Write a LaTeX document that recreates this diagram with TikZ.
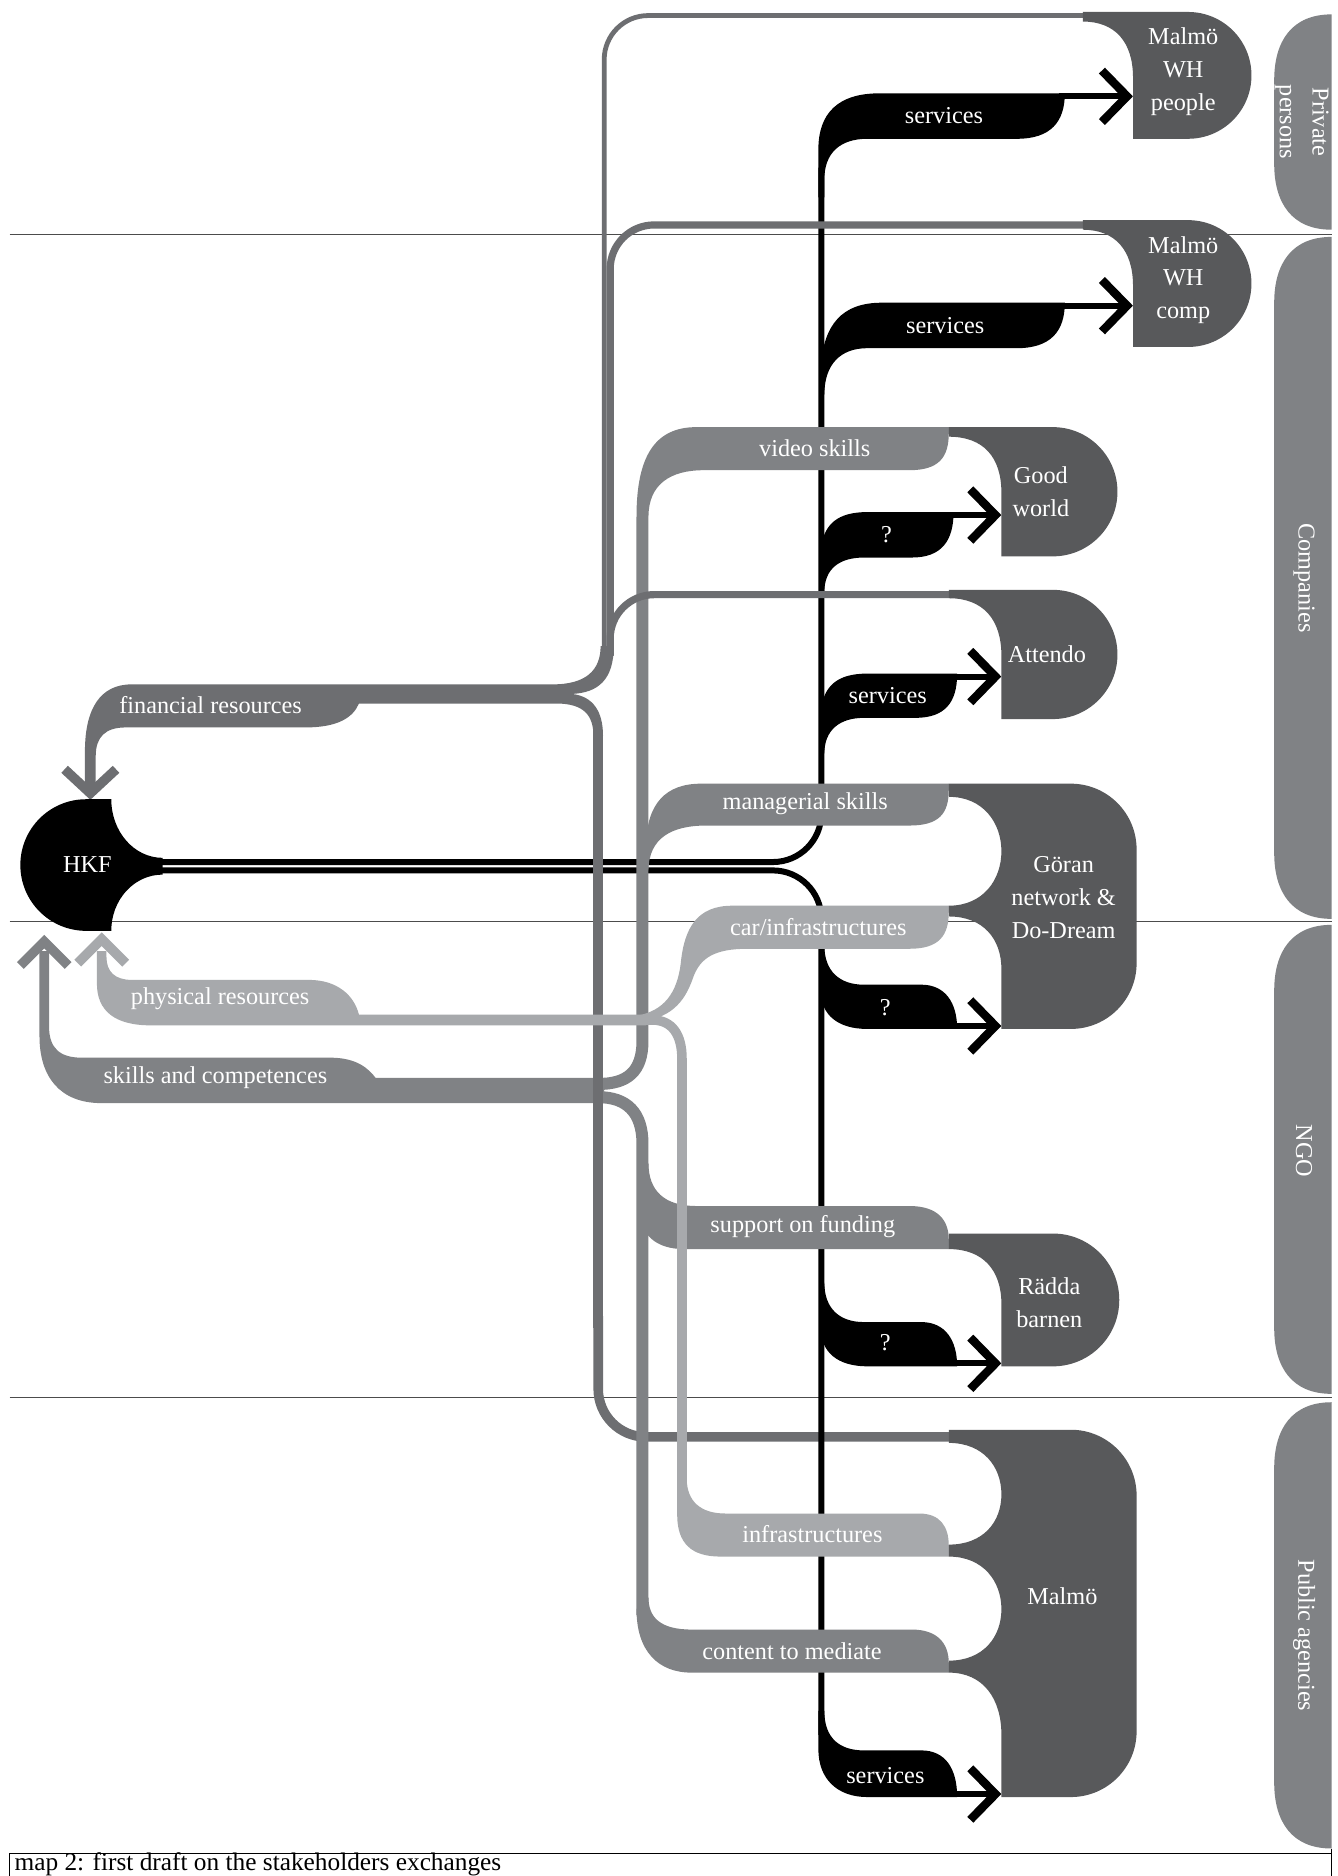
\documentclass[tikz,border=0pt]{standalone}
\usepackage{fontspec}
\setmainfont{Liberation Serif}
\definecolor{nodec}{HTML}{58595B}
\definecolor{tabc}{HTML}{808285}
\definecolor{darkg}{HTML}{6D6E71}
\definecolor{medg}{HTML}{808285}
\definecolor{lightg}{HTML}{A7A9AC}
\newcommand{\lblf}{\fontsize{18.2pt}{24.6pt}\selectfont}
\newcommand{\capf}{\fontsize{19pt}{22pt}\selectfont}
\tikzset{
  lbl/.style={text=white,font=\lblf,inner sep=0pt},
  ntxt/.style={text=white,font=\lblf,align=center,inner sep=0pt},
  tabtxt/.style={text=white,font=\lblf,align=center,inner sep=0pt,rotate=-90},
  sepline/.style={draw=black!70,line width=0.9pt},
  blkline/.style={draw=black,line width=4.5pt},
  chev/.style={line width=6.3pt,line join=miter,miter limit=10,line cap=butt},
  finline/.style={draw=darkg,line cap=butt},
  medline/.style={draw=medg,line width=9pt,line cap=butt},
  lightline/.style={draw=lightg,line width=7.2pt,line cap=butt}
}
\begin{document}
\begin{tikzpicture}[x=0.8976pt,y=-0.8976pt]
\useasboundingbox (0,0) rectangle (1118,1568);
\fill[white] (0,0) rectangle (1118,1568);

% ---- separators and caption frame
\draw[sepline] (8,196) -- (1113,196);
\draw[sepline] (8,770) -- (1113,770);
\draw[sepline] (8,1168) -- (1113,1168);
\draw[line width=0.9pt] (8,1568) -- (8,1549) -- (1113,1549) -- (1113,1568);
\draw[line width=0.9pt] (1113,1545) -- (1113,1549);

% ---- Malmo financial line, horizontal part (bottom layer)
\draw[finline,line width=7.2pt,rounded corners=36pt] (500,1100) -- (500,1201) -- (800,1201);

% ---- black trunk and HKF lines
\draw[blkline] (135,720.5) -- (646,720.5) .. controls (668.4,720.5) and (686.5,702.4) .. (686.5,680) -- (686.5,140);
\draw[blkline] (135,727.5) -- (646,727.5) .. controls (668.4,727.5) and (686.5,745.6) .. (686.5,768) -- (686.5,1450);

% black branches
\fill[black] (684,165) -- (684,125) .. controls (684,95) and (700,78) .. (735,78) -- (890,78) .. controls (890,102) and (878,116) .. (850,116) -- (725,116) .. controls (702,116) and (689,128) .. (689,150) -- (689,165) -- cycle;
\fill[black] (686,305) .. controls (689,272) and (703,253) .. (737,253) -- (890,253) .. controls (890,277) and (878,291) .. (850,291) -- (725,291) .. controls (702,291) and (689,305) .. (689,330) -- cycle;
\fill[black] (686,458) .. controls (689,438) and (700,428) .. (725,428) -- (797,428) .. controls (797,452) and (787,466) .. (762,466) -- (722,466) .. controls (702,466) and (689,475) .. (689,495) -- cycle;
\fill[black] (686,593) .. controls (689,573) and (700,563) .. (725,563) -- (800,563) .. controls (800,587) and (790,600) .. (765,600) -- (722,600) .. controls (702,600) and (689,610) .. (689,630) -- cycle;
\fill[black] (689,790) .. controls (689,812) and (702,823) .. (722,823) -- (770,823) .. controls (790,823) and (800,838) .. (800,860) -- (725,860) .. controls (700,860) and (686,848) .. (686,828) -- cycle;
\fill[black] (689,1072) .. controls (689,1094) and (702,1105) .. (722,1105) -- (770,1105) .. controls (790,1105) and (800,1120) .. (800,1142) -- (725,1142) .. controls (700,1142) and (686,1130) .. (686,1110) -- cycle;
\fill[black] (689,1430) .. controls (689,1453) and (702,1463) .. (722,1463) -- (770,1463) .. controls (790,1463) and (800,1478) .. (800,1502) -- (725,1502) .. controls (700,1502) and (684,1487) .. (684,1462) -- (684,1430) -- cycle;

% black arrows
\draw[blkline] (885,80.5) -- (942,80.5);
\draw[chev,black] (921,59) -- (942,80.5) -- (921,102);
\draw[blkline] (885,255.5) -- (942,255.5);
\draw[chev,black] (921,234) -- (942,255.5) -- (921,277);
\draw[blkline] (790,430.5) -- (832,430.5);
\draw[chev,black] (811,409) -- (832,430.5) -- (811,452);
\draw[blkline] (790,565.5) -- (832,565.5);
\draw[chev,black] (811,544) -- (832,565.5) -- (811,587);
\draw[blkline] (790,857.5) -- (832,857.5);
\draw[chev,black] (811,836) -- (832,857.5) -- (811,879);
\draw[blkline] (790,1139.5) -- (832,1139.5);
\draw[chev,black] (811,1118) -- (832,1139.5) -- (811,1161);
\draw[blkline] (790,1499.5) -- (832,1499.5);
\draw[chev,black] (811,1478) -- (832,1499.5) -- (811,1521);

% ---- medium grey: skills
\draw[medline] (537,432) -- (537,870) .. controls (537,896) and (524,906) .. (500,906);
\draw[medline] (500,917) .. controls (524,917) and (537,930) .. (537,956) -- (537,1350);
\fill[medg] (33,795) -- (33,866) .. controls (33,900) and (50,922) .. (85,922) -- (505,922) -- (505,901) -- (314,901) .. controls (308,893) and (298,884) .. (276,884) -- (68,884) .. controls (50,884) and (41,876) .. (41,858) -- (41,795) -- cycle;
\draw[chev,medg,line width=7.2pt] (17,807) -- (37,787) -- (57,807);
% video skills
\fill[medg] (532,432) .. controls (532,382) and (547,357) .. (582,357) -- (793,357) -- (793,362) .. controls (793,382) and (785,393) .. (760,393) -- (588,393) .. controls (560,393) and (542,405) .. (542,432) -- cycle;
% managerial skills
\fill[medg] (540,705) .. controls (541,672) and (556,655) .. (586,655) -- (793,655) -- (793,660) .. controls (793,680) and (785,690) .. (760,690) -- (590,690) .. controls (562,690) and (542,700) .. (542,728) -- cycle;
% support on funding
\fill[medg] (542,972) .. controls (542,995) and (555,1008) .. (582,1008) -- (760,1008) .. controls (784,1008) and (793,1020) .. (793,1036) -- (793,1044) -- (572,1044) .. controls (548,1044) and (534,1032) .. (534,1008) -- cycle;
% content to mediate
\fill[medg] (542,1335) .. controls (542,1352) and (552,1362) .. (578,1362) -- (762,1362) .. controls (784,1362) and (793,1374) .. (793,1390) -- (793,1398) -- (578,1398) .. controls (550,1398) and (532,1380) .. (532,1345) -- cycle;

% ---- dark grey: financial resources
\draw[finline,line width=3.6pt,rounded corners=33pt] (907,13) -- (505,13) -- (505,548);
\draw[finline,line width=5.4pt,rounded corners=33pt] (907,188) -- (510,188) -- (510,548);
\draw[finline,line width=5.4pt,rounded corners=33pt] (795,497) -- (510,497) -- (510,548);
\fill[darkg] (71,660) -- (71,628) .. controls (71,592) and (84,572) .. (110,572) -- (462,572) .. controls (490,572) and (502,560) .. (502,540) -- (513,540) .. controls (513,568) and (500,579) .. (478,580) .. controls (496,582) and (504,595) .. (504,615) -- (496,615) .. controls (496,598) and (488,588) .. (465,588) -- (300,588) .. controls (295,600) and (282,608) .. (255,608) -- (105,608) .. controls (88,608) and (80,616) .. (80,632) -- (80,660) -- cycle;
\draw[finline,line width=7.2pt] (500,610) -- (500,1110);
\draw[chev,darkg,line width=7.2pt] (54,643) -- (75.5,663) -- (97,643);

% ---- light grey: physical resources
\fill[lightg] (81,795) -- (81,822) .. controls (81,845) and (96,857) .. (126,857) -- (540,857) -- (540,848) -- (300,848) .. controls (296,832) and (282,819) .. (258,819) -- (110,819) .. controls (96,819) and (89,812) .. (89,800) -- (89,795) -- cycle;
\draw[chev,lightg,line width=7.2pt] (65,805) -- (85,785) -- (105,805);
% car/infrastructures
\fill[lightg] (532,849) .. controls (555,845) and (566,830) .. (569,805) .. controls (572,775) and (583,757) .. (612,757) -- (793,757) -- (793,762) .. controls (793,782) and (785,793) .. (760,793) -- (625,793) .. controls (598,793) and (585,800) .. (579,818) .. controls (572,838) and (560,852) .. (532,854) -- cycle;
% infrastructures
\draw[lightline] (535,852.5) -- (545,852.5) .. controls (562,852.5) and (570,865) .. (570,885) -- (570,1240);
\fill[lightg] (566,1230) -- (566,1266) .. controls (566,1290) and (578,1301) .. (602,1301) -- (793,1301) -- (793,1292) .. controls (793,1276) and (786,1265) .. (768,1265) -- (606,1265) .. controls (586,1265) and (574,1255) .. (574,1236) -- (574,1230) -- cycle;

% ---- HKF
\fill[black] (93,668) -- (72,668) .. controls (41.6,668) and (17,692.6) .. (17,723) .. controls (17,753.4) and (41.6,778) .. (72,778) -- (93,778) .. controls (93,752) and (112,731) .. (136,731) -- (136,717) .. controls (112,717) and (93,695) .. (93,668) -- cycle;

% ---- stakeholder nodes
\fill[nodec] (905,10) -- (993,10) .. controls (1022.3,10) and (1046,33.7) .. (1046,63) .. controls (1046,92.3) and (1022.3,116) .. (993,116) -- (947,116) -- (947,65) .. controls (947,35) and (932,18) .. (905,18) -- cycle;
\fill[nodec] (905,184) -- (993,184) .. controls (1022.3,184) and (1046,207.7) .. (1046,237) .. controls (1046,266.3) and (1022.3,290) .. (993,290) -- (947,290) -- (947,239) .. controls (947,209) and (932,192) .. (905,192) -- cycle;
\fill[nodec] (793,357) -- (880,357) .. controls (909.8,357) and (934,381.2) .. (934,411) .. controls (934,440.8) and (909.8,465) .. (880,465) -- (837,465) -- (837,412) .. controls (837,382) and (822,365) .. (793,365) -- cycle;
\fill[nodec] (793,493) -- (880,493) .. controls (909.8,493) and (934,517.2) .. (934,547) .. controls (934,576.8) and (909.8,601) .. (880,601) -- (837,601) -- (837,548) .. controls (837,518) and (822,500) .. (793,500) -- cycle;
\fill[nodec] (793,655) -- (895,655) .. controls (925.4,655) and (950,679.6) .. (950,710) -- (950,805) .. controls (950,835.4) and (925.4,860) .. (895,860) -- (837,860) -- (837,810) .. controls (837,785) and (822,766) .. (793,766) -- (793,757) .. controls (822,757) and (837,735) .. (837,711.5) .. controls (837,688) and (822,666) .. (793,666) -- cycle;
\fill[nodec] (793,1031) -- (880,1031) .. controls (910.7,1031) and (935.5,1055.8) .. (935.5,1086.5) .. controls (935.5,1117.2) and (910.7,1142) .. (880,1142) -- (837,1142) -- (837,1090) .. controls (837,1062) and (822,1044) .. (793,1044) -- cycle;
\fill[nodec] (793,1195) -- (895,1195) .. controls (925.4,1195) and (950,1219.6) .. (950,1250) -- (950,1447) .. controls (950,1477.4) and (925.4,1502) .. (895,1502) -- (837,1502) -- (837,1450) .. controls (837,1420) and (822,1398) .. (793,1398) -- (793,1388) .. controls (822,1388) and (837,1368) .. (837,1345) .. controls (837,1322) and (822,1301) .. (793,1301) -- (793,1291) .. controls (822,1291) and (837,1272) .. (837,1249) .. controls (837,1226) and (822,1206) .. (793,1206) -- cycle;

% ---- category tabs
\foreach \ya/\yb in {12/192,198/768,773/1165,1172/1545}{
  \fill[tabc] (1113,\ya) .. controls (1080,\ya) and (1065,\ya+22) .. (1065,\ya+55) -- (1065,\yb-55) .. controls (1065,\yb-22) and (1080,\yb) .. (1113,\yb) -- cycle;
}

% ---- texts
\node[ntxt] (hkf) at (73,723) {HKF};
\node[ntxt] (whp) at (989,60) {Malmö\\WH\\people};
\node[ntxt] (whc) at (989,234) {Malmö\\WH\\comp};
\node[ntxt] (gw) at (870,411) {Good\\world};
\node[ntxt] (att) at (875,547) {Attendo};
\node[ntxt] (gor) at (889,750) {Göran\\network \&\\Do-Dream};
\node[ntxt] (rad) at (877,1089) {Rädda\\barnen};
\node[ntxt] (mal) at (888,1334) {Malmö};

\node[tabtxt] (tpriv) at (1088,102) {Private\\persons};
\node[tabtxt] (tcomp) at (1090,483) {Companies};
\node[tabtxt] (tngo) at (1090,962) {NGO};
\node[tabtxt] (tpub) at (1090,1367) {Public agencies};

\node[lbl] (lfin) at (176,589) {financial resources};
\node[lbl] (lphy) at (184,835) {physical resources};
\node[lbl] (lski) at (180,901) {skills and competences};
\node[lbl] (lvid) at (681,375) {video skills};
\node[lbl] (lman) at (673,672) {managerial skills};
\node[lbl] (lcar) at (684,775) {car/infrastructures};
\node[lbl] (lsup) at (671,1025) {support on funding};
\node[lbl] (linf) at (679,1282) {infrastructures};
\node[lbl] (lcon) at (662,1380) {content to mediate};
\node[lbl] (s1) at (789,97) {services};
\node[lbl] (s2) at (790,272) {services};
\node[lbl] (q1) at (741,447) {?};
\node[lbl] (s3) at (742,581) {services};
\node[lbl] (q2) at (740,842) {?};
\node[lbl] (q3) at (740,1122) {?};
\node[lbl] (s4) at (740,1484) {services};

\node[anchor=base west,font=\capf,inner sep=0pt] (cap) at (12,1563) {map 2: first draft on the stakeholders exchanges};
\end{tikzpicture}
\end{document}
